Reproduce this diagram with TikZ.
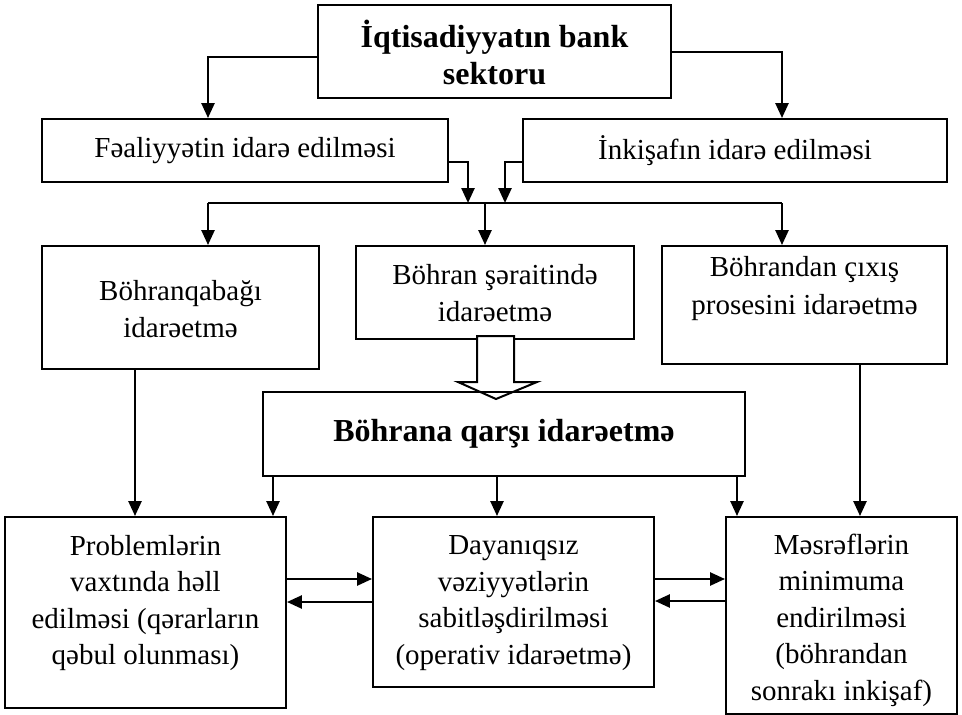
\documentclass[tikz,border=0pt]{standalone}
\usepackage{fontspec}
\setmainfont{Liberation Serif}
\usetikzlibrary{arrows.meta}
\begin{document}
\begin{tikzpicture}[x=1pt,y=-1pt,
  box/.style={draw, line width=1.9pt, inner sep=0pt, fill=none},
  thickbox/.style={draw, line width=2.6pt, inner sep=0pt},
  txt/.style={align=center, inner sep=0pt, font=\fontsize{29}{36.5}\selectfont},
  btxt/.style={align=center, inner sep=0pt, font=\fontsize{32}{37}\selectfont\bfseries},
  conn/.style={line width=2.5pt},
  arr/.style={line width=2.5pt, -{Triangle[length=15pt,width=13pt]}},
  hollow/.style={draw, line width=2pt, fill=white, line join=miter}
]
\useasboundingbox (0,0) rectangle (962,715);

% top level
\node[thickbox, minimum width=353pt, minimum height=93pt] (top) at (494.5,51.5) {};
\node[btxt] (toptext) at (494.5,52) {İqtisadiyyatın bank\\sektoru};

\node[box, minimum width=406pt, minimum height=63pt] (fa) at (245,150.5) {};
\node[txt] (fatext) at (245,150.5) {Fəaliyyətin idarə edilməsi};
\node[box, minimum width=424pt, minimum height=63pt] (ink) at (735,150.5) {};
\node[txt] (inktext) at (735,150.5) {İnkişafın idarə edilməsi};

% second level
\node[box, minimum width=277pt, minimum height=123pt] (b1) at (180.5,307.5) {};
\node[txt] (b1text) at (180.5,309) {Böhranqabağı\\idarəetmə};
\node[box, minimum width=278pt, minimum height=93pt] (b2) at (495,292.5) {};
\node[txt] (b2text) at (495,293) {Böhran şəraitində\\idarəetmə};
\node[box, minimum width=285pt, minimum height=118pt] (b3) at (804.5,305) {};
\node[txt, font=\fontsize{29}{38}\selectfont] (b3text) at (804.5,289) {Böhrandan çıxış\\prosesini idarəetmə};

% hollow arrow
\path[hollow] (477,336) -- (477,382) -- (458,382) -- (496,399) -- (537,382) -- (514,382) -- (514,336) -- cycle;

% central box
\node[thickbox, minimum width=482pt, minimum height=84pt] (bq) at (504,434) {};
\node[btxt] (bqtext) at (504,434) {Böhrana qarşı idarəetmə};

% bottom level
\node[box, minimum width=281pt, minimum height=191pt] (p1) at (145.5,612.5) {};
\node[txt] (p1text) at (145.5,603) {Problemlərin\\vaxtında həll\\edilməsi (qərarların\\qəbul olunması)};
\node[box, minimum width=281pt, minimum height=170pt] (p2) at (513.5,602) {};
\node[txt] (p2text) at (513.5,603) {Dayanıqsız\\vəziyyətlərin\\sabitləşdirilməsi\\(operativ idarəetmə)};
\node[box, minimum width=231pt, minimum height=197pt] (p3) at (841.5,615.5) {};
\node[txt] (p3text) at (841.5,620) {Məsrəflərin\\minimuma\\endirilməsi\\(böhrandan\\sonrakı inkişaf)};

% connectors top
\draw[arr] (top.west |- 0,57) -| (208,0 |- fa.north);
\draw[arr] (top.east |- 0,52) -| (782,0 |- ink.north);

% bus
\coordinate (busL) at (208,203);
\coordinate (busM) at (485,203);
\coordinate (busR) at (782,203);
\coordinate (busA) at (468,203);
\coordinate (busB) at (505,203);
\draw[arr] (fa.east |- 0,162) -| (busA);
\draw[arr] (ink.west |- 0,162) -| (busB);
\draw[conn] (busL) -- (busR);
\draw[arr] (busL) -- (busL |- b1.north);
\draw[arr] (busM) -- (busM |- b2.north);
\draw[arr] (busR) -- (busR |- b3.north);

% down arrows
\draw[arr] (135,0 |- b1.south) -- (135,0 |- p1.north);
\draw[arr] (860,0 |- b3.south) -- (860,0 |- p3.north);
\draw[arr] (273,0 |- bq.south) -- (273,0 |- p1.north);
\draw[arr] (497,0 |- bq.south) -- (497,0 |- p2.north);
\draw[arr] (737,0 |- bq.south) -- (737,0 |- p3.north);

% horizontal arrows
\draw[arr] (p1.east |- 0,579) -- (p2.west |- 0,579);
\draw[arr] (p2.west |- 0,602) -- (p1.east |- 0,602);
\draw[arr] (p2.east |- 0,579) -- (p3.west |- 0,579);
\draw[arr] (p3.west |- 0,601) -- (p2.east |- 0,601);
\end{tikzpicture}
\end{document}
